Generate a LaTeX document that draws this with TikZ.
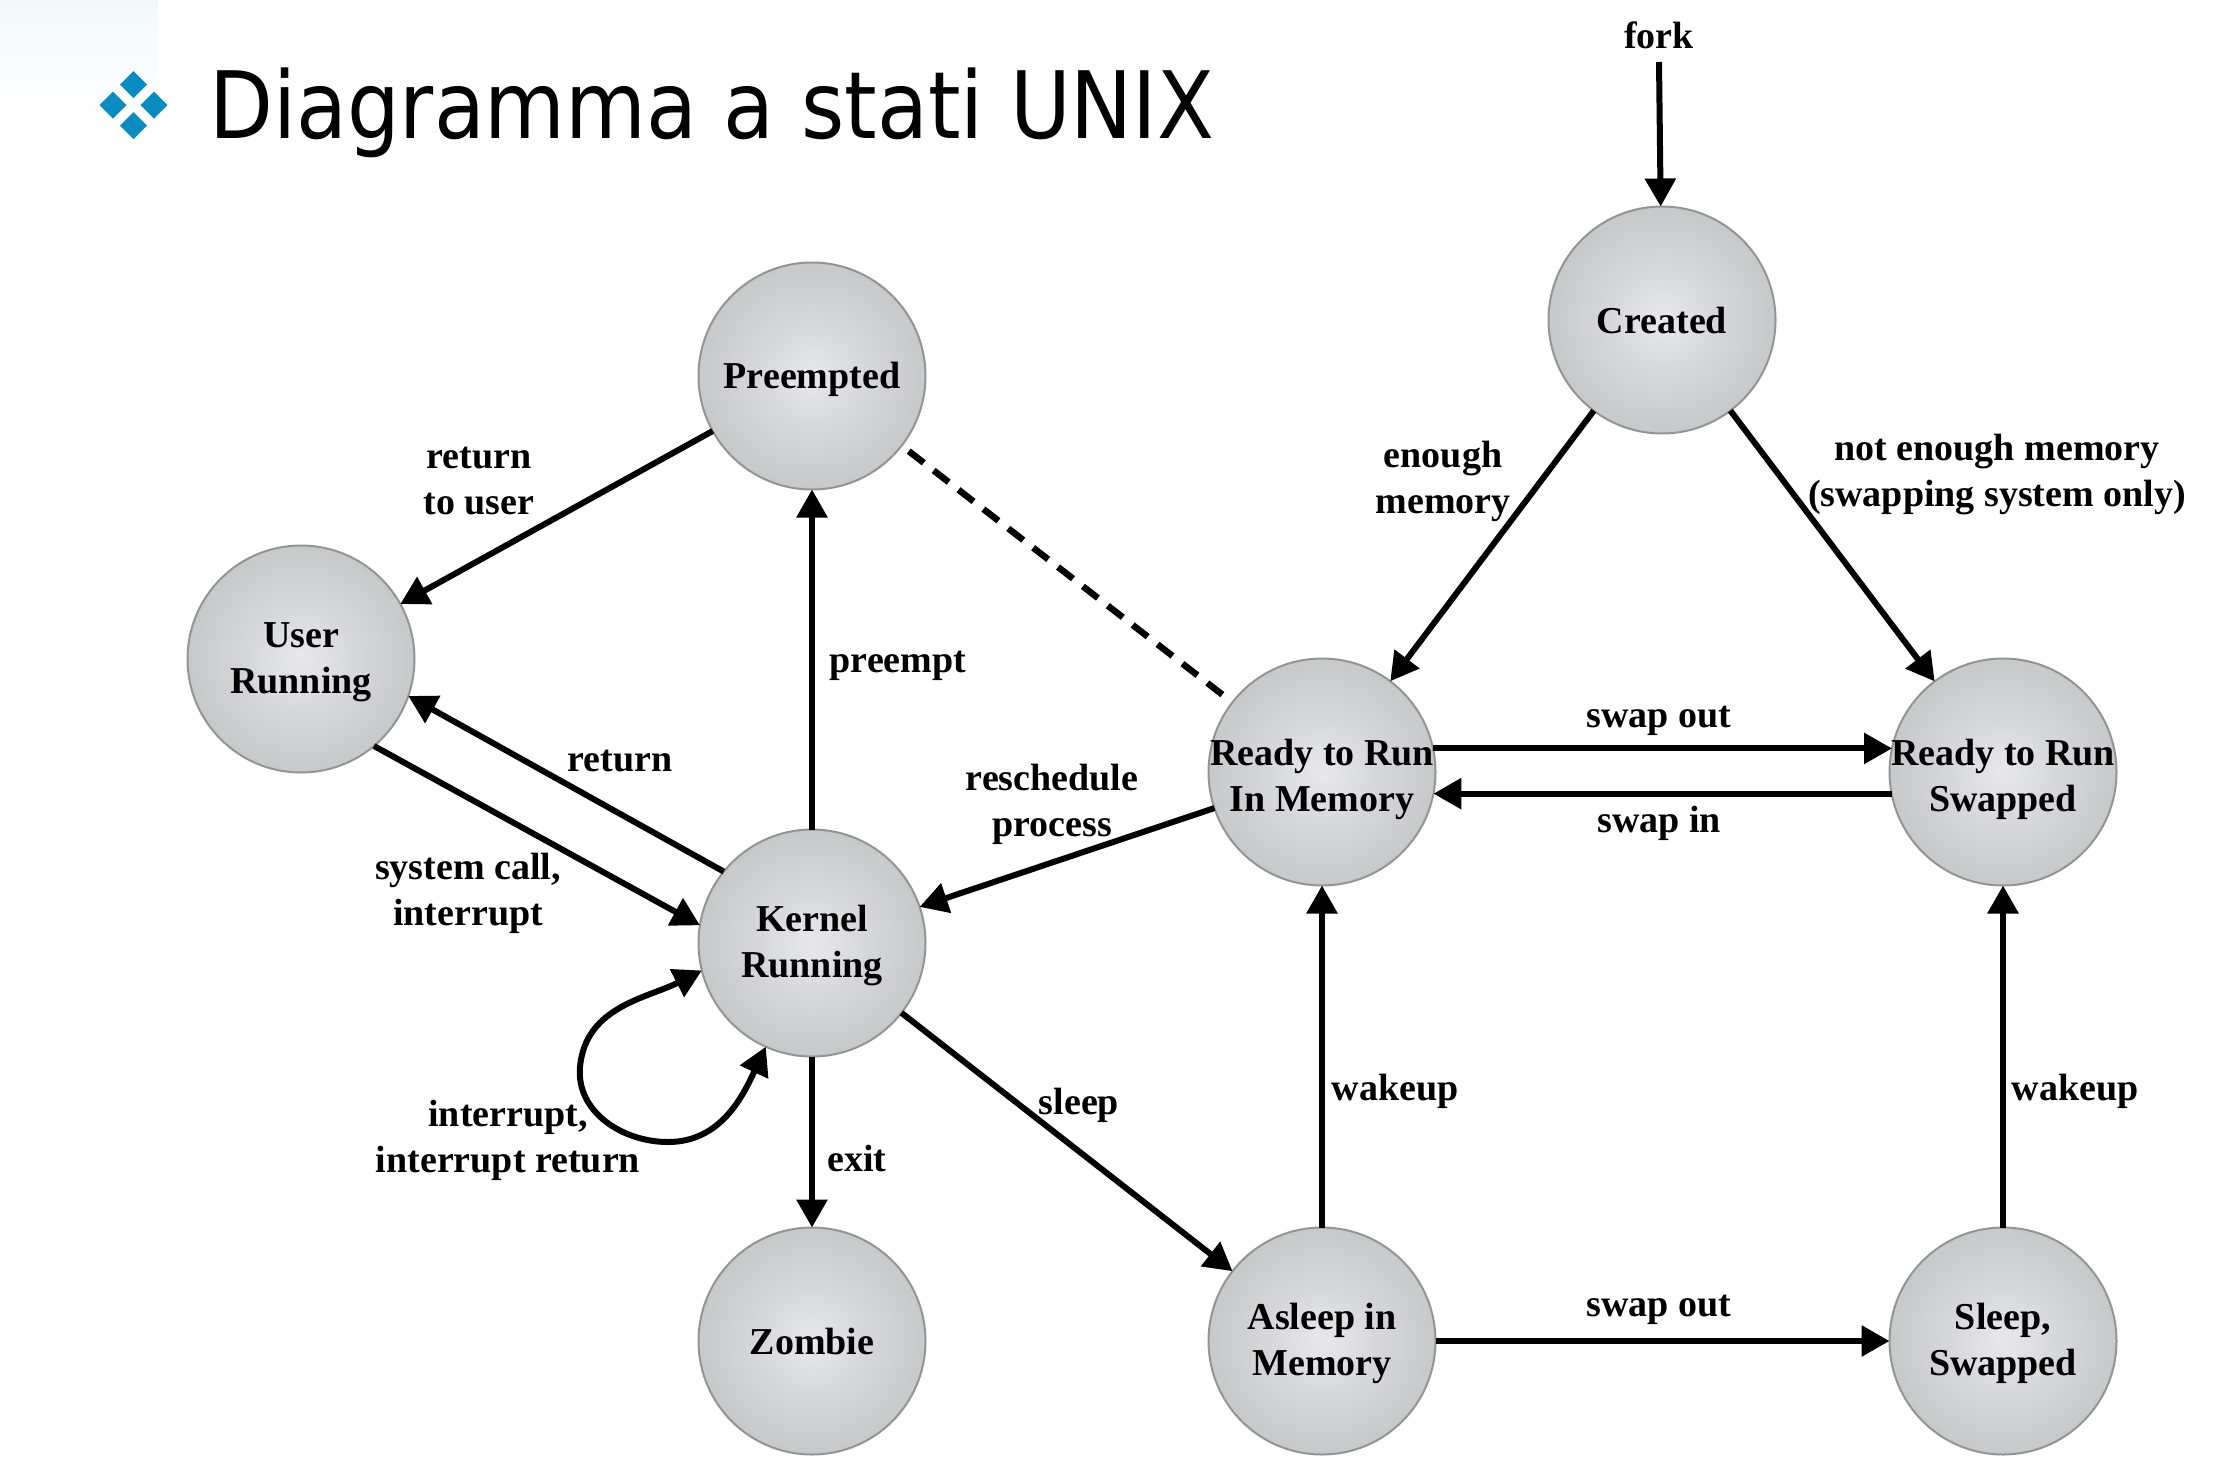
\documentclass[tikz,border=0pt]{standalone}
\usepackage{fontspec}
\setmainfont{Liberation Serif}
\newfontfamily\titlefont[FakeStretch=0.893]{DejaVu Sans}
\usetikzlibrary{arrows.meta}
\definecolor{iconblue}{HTML}{0A8CC2}
\definecolor{statein}{HTML}{E9E9EC}
\definecolor{statemid}{HTML}{D6D7D9}
\definecolor{statering}{HTML}{C4C5C7}
\definecolor{stateedge}{HTML}{B6B7B9}
\definecolor{stateout}{HTML}{A5A6A8}
\definecolor{stateline}{HTML}{939496}
\definecolor{cornerblue}{HTML}{F2F9FB}
\pgfdeclareradialshading{stateball}{\pgfpoint{0bp}{0bp}}{color(0bp)=(statein); color(12bp)=(statemid); color(28bp)=(statering); color(42bp)=(stateedge); color(50bp)=(stateout)}
\newcommand{\dropline}[1]{\rule{0pt}{#1pt}}
\tikzset{
  state/.style={
    circle, draw=stateline, line width=2pt, shade, shading=stateball,
    minimum size=227pt, inner sep=-14pt, outer sep=0pt, align=center,
    font=\fontsize{38}{46}\selectfont\bfseries
  },
  lab/.style={
    align=center, inner sep=0pt,
    font=\fontsize{38}{46}\selectfont\bfseries
  },
  trans/.style={
    line width=6pt, -{Triangle[length=28pt,width=30pt]}
  }
}
\begin{document}
\begin{tikzpicture}[x=1pt,y=-1pt]
\newcommand{\diw}{13.5}
\useasboundingbox (0,0) rectangle (2218,1468);
\shade [top color=cornerblue, bottom color=white] (0,0) rectangle (158,122);
\foreach \cx/\cy in {133.5/84.5, 113/105, 154/105, 133.5/125.5} {
  \fill [iconblue] (\cx,\cy-\diw) -- (\cx+\diw,\cy) -- (\cx,\cy+\diw) -- (\cx-\diw,\cy) -- cycle;
}
\node [anchor=base west, inner sep=0pt, font=\fontsize{93}{100}\selectfont\titlefont] (title) at (209,138) {Diagramma a stati UNIX};

\node [state] (created) at (1662,320) {\dropline{27}Created};
\node [state] (preempted) at (812,376) {\dropline{33}Preempted};
\node [state] (user) at (301,659) {\dropline{31}User\\Running};
\node [state] (kernel) at (812,943) {\dropline{31}Kernel\\Running};
\node [state] (zombie) at (812,1341) {\dropline{27}Zombie};
\node [state] (asleep) at (1322,1341) {\dropline{31}Asleep in\\Memory};
\node [state] (sleepswap) at (2003,1341) {\dropline{31}Sleep,\\Swapped};
\node [state] (readymem) at (1322,772) {\dropline{42}Ready to Run\\In Memory};
\node [state] (readyswap) at (2003,772) {\dropline{42}Ready to Run\\Swapped};

\node [lab] (fork) at (1659,35) {fork};
\coordinate (forkend) at (1659,62);
\coordinate (loopw) at (580,1067);
\coordinate (loops) at (668,1142);

\draw [trans] (forkend) -- (created);
\draw [trans] (created) -- (readymem);
\draw [trans] (created) -- (readyswap);
\draw [trans] (preempted) -- (user);
\draw [trans] (kernel) -- (preempted);
\draw [trans] (kernel.141) -- (user.-19);
\draw [trans] (user.-50) -- (kernel.171);
\draw [trans] (readymem) -- (kernel);
\draw [trans] (kernel) -- (zombie);
\draw [trans] (kernel) -- (asleep);
\draw [trans] (asleep) -- (readymem);
\draw [trans] (sleepswap) -- (readyswap);
\draw [trans] (asleep) -- (sleepswap);
\draw [trans] (readymem.12) -- (readyswap.168);
\draw [trans] (readyswap.191) -- (readymem.-11);
\draw [line width=6.5pt, dash pattern=on 19pt off 12.5pt, shorten <=9pt, shorten >=9pt] (preempted) -- (readymem);
\draw [trans, {Triangle[length=28pt,width=30pt]}-{Triangle[length=28pt,width=30pt]}] (kernel.194) to [out=207, in=85] (loopw) to [out=265, in=180] (loops) to [out=0, in=245] (kernel.246);

\node [lab] (lreturnuser) at (479,481) {return\\to user};
\node [lab] (lenough) at (1443,481) {enough\\memory};
\node [lab] (lnotenough) at (1997,474) {not enough memory\\(swapping system only)};
\node [lab] (lpreempt) at (898,666) {preempt};
\node [lab] (lreturn) at (620,761) {return};
\node [lab] (lresched) at (1052,804) {reschedule\\process};
\node [lab] (lsyscall) at (468,893) {system call,\\interrupt};
\node [lab] (lswapout) at (1659,721) {swap out};
\node [lab] (lswapin) at (1659,823) {swap in};
\node [lab] (lwakeup) at (1395,1091) {wakeup};
\node [lab] (lwakeupb) at (2075,1091) {wakeup};
\node [lab] (lsleep) at (1079,1105) {sleep};
\node [lab] (lexit) at (857,1158) {exit};
\node [lab] (linterrupt) at (508,1140) {interrupt,\\interrupt return};
\node [lab] (lswapoutb) at (1659,1310) {swap out};
\end{tikzpicture}
\end{document}
